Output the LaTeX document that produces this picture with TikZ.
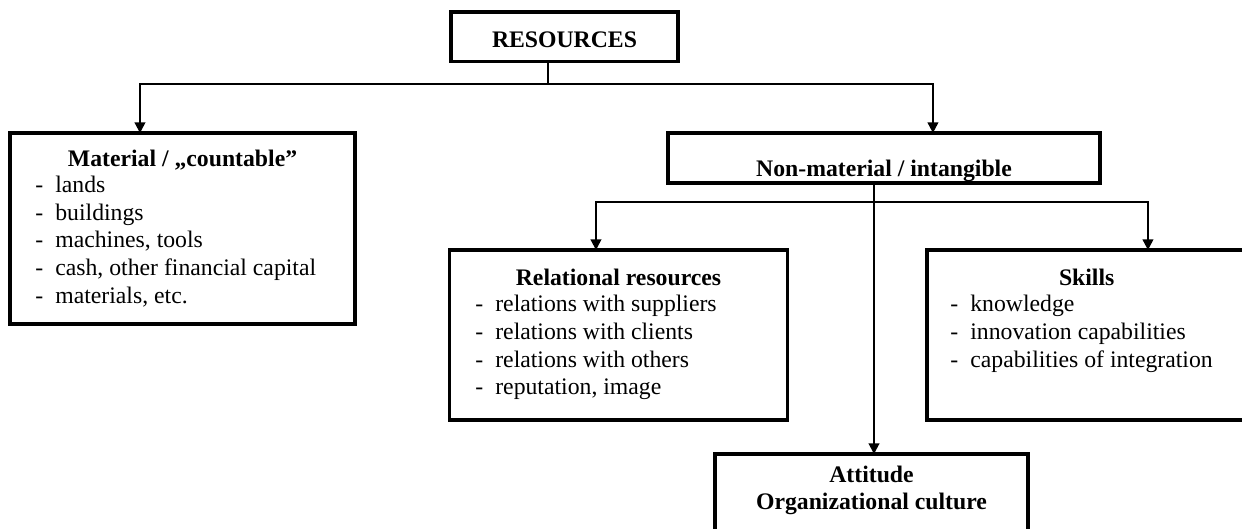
\documentclass[tikz,border=0pt]{standalone}
\usepackage{fontspec}
\setmainfont{Liberation Serif}
\usetikzlibrary{arrows.meta}
\tikzset{
  box/.style={draw, rectangle, line width=2.1pt, inner sep=0pt, outer sep=0pt, anchor=north west},
  ttl/.style={font=\fontsize{13.5pt}{15.9pt}\selectfont\bfseries, anchor=base, inner sep=0pt},
  itm/.style={font=\fontsize{13.5pt}{15.9pt}\selectfont, anchor=base west, inner sep=0pt},
  conn/.style={line width=1.1pt},
  arr/.style={-{Triangle[length=6pt,width=6pt]}, line width=1.1pt},
}
\newcommand{\itemdash}{\makebox[0.4cm][l]{-}}

\begin{document}
\begin{tikzpicture}[x=0.02cm,y=-0.02cm]
\useasboundingbox (0,0) rectangle (1242,528);
% boxes
\node[box, minimum width=4.54cm, minimum height=0.99cm] (res) at (451,12) {};
\node[box, minimum width=6.9cm, minimum height=3.82cm] (mat) at (10,133) {};
\node[box, minimum width=8.64cm, minimum height=1.0cm] (nonm) at (668,133) {};
\node[box, minimum width=6.76cm, minimum height=3.4cm] (rel) at (449.5,250) {};
\node[box, minimum width=6.7cm, minimum height=3.4cm] (skl) at (926.7,250) {};
\node[box, minimum width=6.26cm, minimum height=1.7cm] (att) at (715,454) {};
% titles
\node[ttl] (res-t) at (564.5,47) {RESOURCES};
\node[ttl] (mat-t) at (182.5,166) {Material / „countable”};
\node[ttl] (nonm-t) at (884,176) {Non-material / intangible};
\node[ttl] (rel-t) at (618.5,285) {Relational resources};
\node[ttl] (skl-t) at (1086.7,285) {Skills};
\node[ttl] (att-t1) at (871.5,482) {Attitude};
\node[ttl] (att-t2) at (871.5,509) {Organizational culture};
% lists
\foreach \txt [count=\i from 0] in {lands,buildings,{machines, tools},{cash, other financial capital},{materials, etc.}}
  \node[itm] (mat-\i) at (35,192.5+27.7*\i) {\itemdash\txt};
\foreach \txt [count=\i from 0] in {relations with suppliers,relations with clients,relations with others,{reputation, image}}
  \node[itm] (rel-\i) at (475,311.5+27.8*\i) {\itemdash\txt};
\foreach \txt [count=\i from 0] in {knowledge,innovation capabilities,capabilities of integration}
  \node[itm] (skl-\i) at (950,311.5+27.8*\i) {\itemdash\txt};
% connectors
\coordinate (j1) at (548,84);
\coordinate (j2) at (874,202);
\draw[conn] (res.south -| j1) -- (j1);
\draw[arr] (j1) -| ([xshift=-0.85cm]mat.north);
\draw[arr] (j1) -| ([xshift=0.98cm]nonm.north);
\draw[arr] (nonm.south -| j2) -- (att.north -| j2);
\draw[arr] (j2) -| ([xshift=-0.45cm]rel.north);
\draw[arr] (j2) -| ([xshift=1.076cm]skl.north);
\end{tikzpicture}
\end{document}
